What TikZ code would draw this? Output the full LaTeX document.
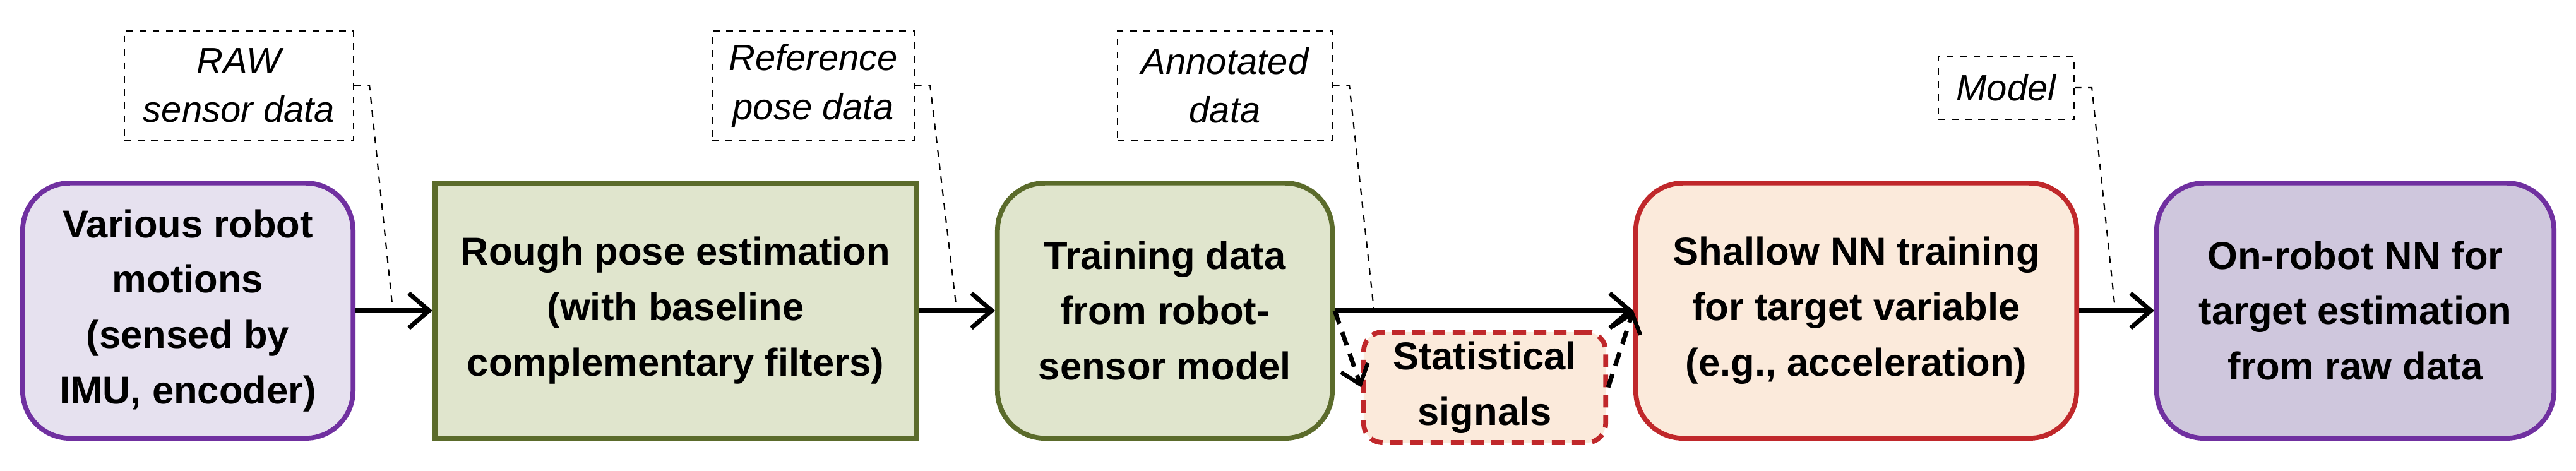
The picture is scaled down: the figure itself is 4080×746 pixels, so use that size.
\documentclass[tikz,border=0pt]{standalone}
\usepackage{fontspec}
\setmainfont{Liberation Sans}
\usetikzlibrary{arrows.meta}
\definecolor{pfill}{HTML}{E6E1EF}
\definecolor{pdraw}{HTML}{7030A0}
\definecolor{gfill}{HTML}{E0E5CD}
\definecolor{gdraw}{HTML}{5B6B2B}
\definecolor{rfill}{HTML}{FBEADB}
\definecolor{rdraw}{HTML}{C0282B}
\definecolor{p2fill}{HTML}{CFC7DD}
\tikzset{
  box/.style={draw, line width=2.2pt, align=center, inner sep=0pt,
    font=\fontsize{17.5}{25}\selectfont\bfseries, minimum height=4.04cm},
  rbox/.style={box, rounded corners=0.75cm},
  lbl/.style={draw, dashed, line width=0.6pt, align=center, inner sep=0pt,
    font=\fontsize{16.5}{22}\selectfont\itshape},
  lead/.style={dashed, line width=0.6pt},
  arr/.style={line width=2.2pt, -{Straight Barb[length=0.32cm,width=0.55cm,line width=2pt]}},
  darr/.style={line width=2pt, dash pattern=on 0.22cm off 0.14cm, -{Straight Barb[length=0.28cm,width=0.45cm,line width=1.8pt]}}
}
\begin{document}
\begin{tikzpicture}[x=0.01cm,y=-0.01cm]
\useasboundingbox (0,0) rectangle (4080,746);
\node[rbox, fill=pfill, draw=pdraw, minimum width=5.23cm] (b1) at (297.5,492) {Various robot\\motions\\(sensed by\\IMU, encoder)};
\node[box, fill=gfill, draw=gdraw, minimum width=7.62cm] (b2) at (1070,492) {Rough pose estimation\\(with baseline\\complementary filters)};
\node[rbox, fill=gfill, draw=gdraw, minimum width=5.30cm] (b3) at (1845,492) {Training data\\from robot-\\sensor model};
\node[rbox, fill=rfill, draw=rdraw, minimum width=6.98cm] (b4) at (2940,492) {Shallow NN training\\for target variable\\(e.g., acceleration)};
\node[rbox, fill=p2fill, draw=pdraw, minimum width=6.29cm] (b5) at (3730.5,492) {On-robot NN for\\target estimation\\from raw data};
\node[box, fill=rfill, draw=rdraw, dashed, dash pattern=on 0.2cm off 0.12cm, rounded corners=0.3cm, minimum width=3.83cm, minimum height=1.75cm] (st) at (2351.5,613.5) {Statistical\\signals};

\node[lbl, minimum width=3.63cm, minimum height=1.73cm] (l1) at (378.5,135.5) {RAW\\sensor data};
\node[lbl, minimum width=3.20cm, minimum height=1.73cm] (l2) at (1288,135.5) {Reference\\pose data};
\node[lbl, minimum width=3.40cm, minimum height=1.73cm] (l3) at (1940,135.5) {Annotated\\data};
\node[lbl, minimum width=2.15cm, minimum height=1.00cm] (l4) at (3177.5,139) {Model};

\draw[arr] (b1) -- (b2);
\draw[arr] (b2) -- (b3);
\draw[arr] (b3) -- (b4);
\draw[arr] (b4) -- (b5);
\draw[darr] (b3.east) -- (st.west);
\draw[darr] (st.east) -- (b4.west);

\coordinate (e1) at (622,490);
\coordinate (e2) at (1515,490);
\coordinate (e3) at (2176,490);
\coordinate (e4) at (3350,490);
\draw[lead] (l1.east) -- ++(24,0) -- (e1);
\draw[lead] (l2.east) -- ++(24,0) -- (e2);
\draw[lead] (l3.east) -- ++(26,0) -- (e3);
\draw[lead] (l4.east) -- ++(27,0) -- (e4);
\end{tikzpicture}
\end{document}
